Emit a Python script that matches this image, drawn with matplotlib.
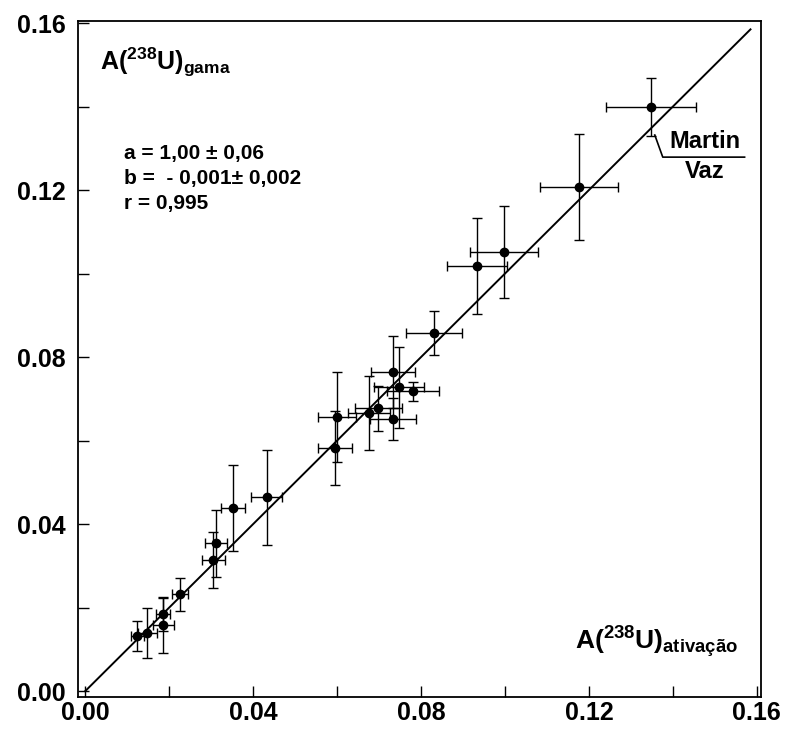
import matplotlib
matplotlib.use('Agg')
import matplotlib.pyplot as plt
from matplotlib.ticker import MultipleLocator

plt.rcParams['font.family'] = ['Liberation Sans', 'DejaVu Sans']
plt.rcParams['font.weight'] = 'bold'
plt.rcParams['mathtext.fontset'] = 'custom'
plt.rcParams['mathtext.rm'] = 'Liberation Sans:bold'
plt.rcParams['mathtext.bf'] = 'Liberation Sans:bold'
plt.rcParams['mathtext.it'] = 'Liberation Sans:bold'

# A(238U) ativacao (x) vs A(238U) gama (y)
x_ativ = [0.1348, 0.1176, 0.0998, 0.0933, 0.0831, 0.0733, 0.0748, 0.0781,
          0.0698, 0.0676, 0.0733, 0.0600, 0.0595, 0.0433, 0.0352, 0.0312,
          0.0305, 0.0226, 0.0186, 0.0186, 0.0148, 0.0124]
y_gama = [0.1399, 0.1207, 0.1051, 0.1018, 0.0857, 0.0764, 0.0728, 0.0718,
          0.0678, 0.0666, 0.0651, 0.0656, 0.0582, 0.0464, 0.0438, 0.0354,
          0.0314, 0.0232, 0.0184, 0.0158, 0.0139, 0.0132]
x_err = [0.0107, 0.0093, 0.0081, 0.0072, 0.0067, 0.0052, 0.0060, 0.0062,
         0.0056, 0.0050, 0.0055, 0.0045, 0.0040, 0.0037, 0.0029, 0.0027,
         0.0027, 0.0020, 0.0017, 0.0025, 0.0022, 0.0015]
y_err = [0.0070, 0.0127, 0.0110, 0.0115, 0.0053, 0.0086, 0.0097, 0.0023,
         0.0054, 0.0088, 0.0050, 0.0108, 0.0089, 0.0113, 0.0103, 0.0080,
         0.0067, 0.0040, 0.0040, 0.0067, 0.0060, 0.0036]

# reta ajustada
a_fit = 1.00
b_fit = 0.0
x_line = [0.0, 0.1585]

fig = plt.figure(figsize=(7.85, 7.32), dpi=100)
ax = fig.add_axes([0.0994, 0.0478, 0.870, 0.9235])

ax.errorbar(x_ativ, y_gama, xerr=x_err, yerr=y_err, fmt='o', color='black',
            ms=6, elinewidth=1, capsize=3.5, capthick=1)
ax.plot(x_line, [a_fit * v + b_fit for v in x_line], color='black', lw=1.4)

ax.set_xlim(-0.0017, 0.161)
ax.set_ylim(-0.0014, 0.1605)
ax.xaxis.set_major_locator(MultipleLocator(0.04))
ax.yaxis.set_major_locator(MultipleLocator(0.04))
ax.xaxis.set_minor_locator(MultipleLocator(0.02))
ax.yaxis.set_minor_locator(MultipleLocator(0.02))
ax.xaxis.set_major_formatter(plt.FormatStrFormatter('%.2f'))
ax.yaxis.set_major_formatter(plt.FormatStrFormatter('%.2f'))
ax.tick_params(which='both', direction='in', top=False, right=False,
               length=8, width=1, labelsize=18)
ax.tick_params(axis='x', pad=3)
ax.tick_params(axis='y', pad=9)
for s in ax.spines.values():
    s.set_linewidth(1.3)

ax.text(0.0036, 0.1505, r'A($^{\mathrm{238}}$U)$_{\mathrm{gama}}$', fontsize=18,
        fontweight='bold', va='center', ha='left')
ax.text(0.1167, 0.0118, r'A($^{\mathrm{238}}$U)$_{\mathrm{ativação}}$', fontsize=19,
        fontweight='bold', va='center', ha='left')

ax.text(0.0093, 0.1287, 'a = 1,00 \u00b1 0,06', fontsize=15, fontweight='bold',
        va='center', ha='left')
ax.text(0.0093, 0.1228, 'b =  - 0,001\u00b1 0,002', fontsize=15, fontweight='bold',
        va='center', ha='left')
ax.text(0.0093, 0.1168, 'r = 0,995', fontsize=15, fontweight='bold',
        va='center', ha='left')

# Martin Vaz
ax.plot([0.1357, 0.1376, 0.1571], [0.1332, 0.1279, 0.1279], color='black', lw=1.2)
ax.text(0.1476, 0.1316, 'Martin', fontsize=17, fontweight='bold',
        va='center', ha='center')
ax.text(0.1476, 0.1245, 'Vaz', fontsize=17, fontweight='bold',
        va='center', ha='center')

fig.savefig('out.png', dpi=100)
